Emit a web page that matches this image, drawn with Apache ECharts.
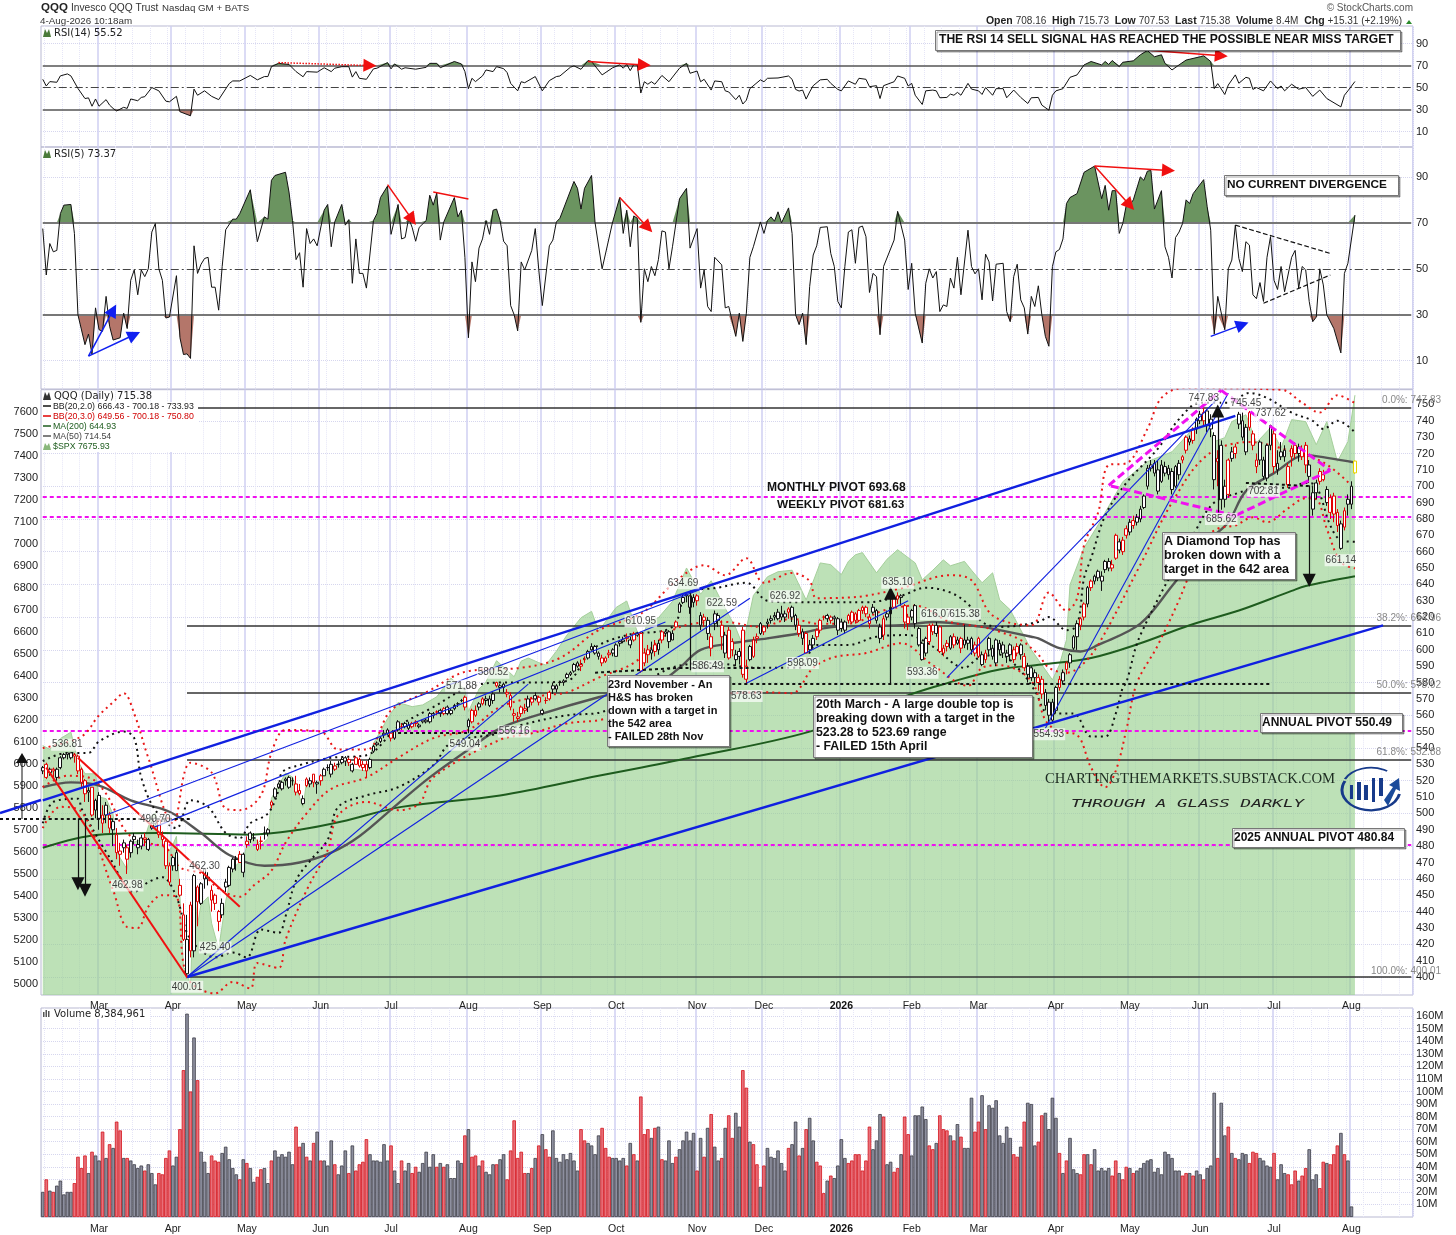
<!DOCTYPE html>
<html><head><meta charset="utf-8"><title>QQQ</title>
<script src="https://cdn.jsdelivr.net/npm/echarts@6/dist/echarts.min.js"></script>
<style>html,body{margin:0;padding:0;background:#fff}#c{width:1456px;height:1235px}</style></head>
<body><div id="c"></div><script>
const FONT='"Liberation Sans",Arial,sans-serif',VFONT='"DejaVu Sans",Verdana,sans-serif';
const monthIdx=[16,37,58,79,99,121,142,163,186,205,227,247,266,288,309,329,350,372];
const monthNames=['Mar','Apr','May','Jun','Jul','Aug','Sep','Oct','Nov','Dec','2026','Feb','Mar','Apr','May','Jun','Jul','Aug'];
const rsi14=[[0,57.5],[1,51.4],[2,55.4],[4,54.8],[5,60.6],[7,62.4],[8,60.6],[10,49.2],[12,40],[13,40.6],[14,33],[15,39.6],[16,33],[18,39],[19,34],[20,31],[21,28.7],[23,32],[24,31],[25,39.6],[27,38],[28,41],[29,41.7],[31,50],[33,47],[35,37.6],[36,37],[38,42],[39,28],[42,24.3],[43,48.6],[44,43],[46,47],[48,42],[50,39],[53,53.6],[54,56],[56,56],[59,61],[61,57],[63,60],[64,60],[65,69],[67,72],[70,71],[72,64.5],[74,59.8],[75,64.5],[78,64],[80,68],[82,64.5],[83,67.6],[85,69],[87,69],[88,59.5],[89,64.5],[90,58.4],[92,57.5],[94,67],[95,67.6],[98,72.7],[99,67],[100,71.5],[102,66.7],[103,68],[106,66.7],[109,68.4],[110,72],[112,72],[113,68],[117,73.7],[119,71.5],[120,64.5],[121,49],[122,58.4],[123,55.4],[125,60.6],[126,66],[128,64.5],[129,69],[131,67.2],[132,63.6],[133,53.8],[135,47],[136,55.3],[137,54.4],[140,60],[142,47],[144,56.3],[146,60],[147,60.5],[150,68.5],[151,69.7],[153,66.6],[155,74.6],[156,73.7],[159,61.5],[162,68],[164,70.6],[165,67.6],[166,71],[167,65.4],[168,71],[169,70.6],[170,45],[171,55.3],[172,53],[173,55.3],[174,53],[176,61],[178,55.3],[181,67.6],[183,72],[184,63],[186,65],[187,55.3],[188,57.5],[190,47.7],[191,56],[193,55.3],[194,47],[195,46],[197,39],[198,43],[199,35],[200,38.5],[201,49],[204,57],[205,55.3],[206,58.4],[209,58.7],[212,60.5],[213,57.5],[214,48.3],[215,46.8],[216,47.7],[217,39.5],[218,46],[219,51.7],[221,57],[223,57.5],[224,53.8],[226,48.3],[227,47],[229,56],[231,53],[232,58.4],[234,57.5],[235,50.8],[237,51.7],[238,40],[239,51.7],[242,55.3],[243,60.5],[245,58.4],[246,51.4],[247,53.8],[248,43],[250,34.6],[251,47],[253,47.7],[254,47],[255,40.7],[257,41],[258,44],[259,43],[260,45.6],[261,43],[263,53.8],[264,48.6],[266,47],[267,43.7],[268,50],[270,43],[271,49],[273,49],[274,40.7],[276,47.7],[278,41],[280,35.5],[281,40.7],[283,41],[284,34],[286,29.4],[287,43],[288,47],[290,49],[292,59.3],[294,61.5],[296,70.6],[298,73.7],[301,70.6],[302,73.7],[303,71],[304,74.6],[306,69],[307,73],[310,74.3],[312,79.8],[314,83.7],[316,78],[318,79.8],[319,72],[321,66],[323,70.6],[325,75],[329,78],[330,78.9],[332,73.7],[333,49],[334,53.6],[336,43.7],[337,52.3],[339,61.5],[340,53.9],[342,59.3],[343,58.4],[344,48.3],[345,50],[347,47],[349,56],[351,49],[352,51.4],[353,47],[355,53],[357,48.5],[359,50],[361,42],[363,47.7],[365,40],[369,32.4],[370,43],[371,47],[373,55.5]];
const rsi5=[[0,67.5],[1,47.3],[2,61],[3,57.4],[4,58],[5,74],[6,77.7],[8,78],[9,65.4],[10,30],[12,17],[13,21.6],[14,12.7],[15,33],[16,23.5],[17,22.8],[18,38],[19,25],[20,19],[22,20],[23,30.7],[24,24],[25,45],[26,49.5],[27,38.7],[28,49.5],[29,46.6],[30,50],[31,66],[32,69.7],[33,50],[34,45],[35,28.6],[36,29],[38,47],[39,20],[40,12.7],[41,13],[42,11],[43,60],[44,48],[45,52],[46,54.5],[47,55],[48,42],[49,42],[50,32],[51,51],[52,67],[54,71.6],[55,71.6],[56,74],[59,84.4],[61,61.8],[63,72.6],[64,71.6],[65,88.5],[66,90.6],[69,92],[70,83.4],[71,71],[72,54],[73,57],[74,42],[75,67.5],[76,61],[77,63],[78,60],[80,75.5],[81,78],[82,59.6],[83,70.4],[85,78],[86,69],[87,71.4],[88,43.7],[89,63],[90,48],[91,48],[92,41.6],[94,71],[95,74],[96,81],[98,86],[99,65],[101,78],[102,63],[103,63.6],[104,72],[105,68],[106,62],[107,68],[109,71],[110,82],[111,77.7],[112,83],[113,62.5],[114,70.4],[117,81],[118,72.6],[119,75.5],[120,55],[121,20],[122,53],[123,44.4],[124,59],[125,63],[126,71],[127,65],[128,75.5],[129,76],[130,71],[131,62],[132,60],[133,34],[134,30],[135,23],[136,53],[137,49.5],[139,58],[140,67.5],[141,49.5],[142,34],[144,60],[145,62.5],[146,70.4],[147,72],[151,88],[152,85],[153,76],[154,85],[156,90.6],[157,70],[159,50],[162,70.4],[164,81],[165,65.4],[166,75.5],[167,59.6],[168,73],[169,72],[170,26.7],[171,50],[172,44.4],[173,51],[174,47],[175,54],[176,66.5],[177,66],[178,50],[179,59.6],[181,80.5],[183,85],[184,59],[186,67.5],[187,41.6],[188,49.5],[189,33.6],[190,31.4],[191,55],[193,51.7],[194,33],[195,33.6],[197,20.6],[198,30.7],[199,18.4],[200,30.7],[201,55],[202,59.6],[204,70.4],[205,65.4],[206,71],[207,72.6],[208,70.7],[209,74.8],[210,70],[212,76.5],[213,65.4],[214,30],[215,25.7],[216,30.7],[217,17],[218,42.3],[219,56],[220,60],[221,68],[223,68.3],[224,56.7],[225,51],[226,35.8],[227,33],[228,51],[229,66],[230,67],[231,52.4],[232,68],[233,68.6],[234,64],[235,39.7],[236,48],[237,46.6],[238,21.3],[239,51],[242,62.5],[243,75],[245,62.5],[246,41],[247,52.4],[248,30.7],[250,17.7],[251,43.7],[252,50],[253,46],[254,48.8],[255,31.4],[256,34.3],[257,33.6],[258,46],[259,41.6],[260,55],[261,38.7],[263,66.8],[264,51],[265,47.8],[266,50],[267,36.5],[268,56.4],[269,53],[270,36],[271,52],[273,52.4],[274,31.4],[275,27],[276,46.6],[277,52],[278,36.5],[279,33],[280,21.6],[281,38],[282,33.6],[283,42.6],[284,30],[285,20.6],[286,16.3],[287,51],[288,57.4],[289,58.4],[290,63],[291,78.4],[292,81],[294,82.7],[296,92],[299,94.7],[301,80.5],[302,86.3],[303,75.5],[304,84],[305,84],[306,65.4],[307,69.7],[308,77.7],[309,77.7],[310,80],[312,90],[313,88.5],[314,92.5],[315,92.8],[316,76],[318,84],[319,59.6],[320,55],[321,46],[322,63.6],[323,66],[324,69.7],[325,80],[326,78.4],[327,82.7],[330,88.8],[331,77],[332,66.8],[333,21.6],[334,38],[336,23.5],[337,50],[338,53.8],[339,69],[340,54.5],[341,48.8],[342,61.8],[343,60.3],[344,38.7],[345,37],[346,44],[347,35.8],[348,55],[349,64],[350,45],[351,41],[352,51],[353,40],[355,55],[356,58],[357,41.6],[358,51],[359,49.5],[360,35.8],[361,27],[362,29],[363,50],[364,43],[365,30],[367,24],[369,13.4],[370,48],[371,52.4],[373,73.37]];
const ohlc=[526,528,524,529,530,522,521,531,525,527,523,528,527,526,521,528,522,527,520,528,528,534,527,535,534,536,533,537,536,537,533,537,534,537,533,537,536,535,531,537,535,526,524,536,527,519,516,528,520,512,507,521,514,513,507,516,516,499,498,516,502,508,497,509,511,497,490,513,494,499,488,505,499,505,494,507,499,491,488,501,490,495,480,497,487,476,472,491,477,475,468,482,479,482,476,484,479,472,463,481,476,483,473,484,
484,486,481,488,481,479,475,484,480,485,478,487,485,484,480,488,478,484,477,485,491,494,490,495,494,497,493,498,496,487,485,497,486,484,480,489,483,468,466,484,458,468,456,470,468,473,465,474,465,476,465,478,456,450,449,460,438,423,422,445,402,423,400,438,444,416,412,446,416,462,412,463,455,446,431,456,445,457,444,458,466,460,454,466,460,461,456,464,453,447,440,456,450,445,441,451,440,434,428,441,438,445,436,448,458,455,452,460,456,467,455,468,466,472,464,473,472,472,465,474,470,475,470,477,464,475,461,476,
483,481,479,486,484,488,482,489,485,485,483,488,478,481,477,484,483,483,478,486,488,488,484,492,490,488,486,491,505,507,503,508,510,515,509,516,516,518,515,519,515,519,514,520,520,521,517,522,516,522,515,523,520,520,517,522,518,513,511,523,512,514,511,518,506,509,505,511,517,521,516,522,520,518,516,522,524,519,516,524,518,519,512,520,
520,523,517,524,523,527,523,528,528,528,526,530,530,524,522,532,527,529,526,531,530,530,528,532,531,533,530,534,534,532,529,535,531,533,529,534,530,526,525,531,530,534,530,535,533,529,528,534,530,528,526,532,530,526,522,532,528,533,527,534,538,541,537,542,542,543,541,544,544,546,543,547,549,548,546,551,549,551,548,552,
549,546,544,549,546,550,545,551,551,556,550,557,553,553,551,555,553,555,552,556,554,552,551,556,553,555,552,556,555,556,553,557,553,554,552,555,557,556,555,557,556,557,555,558,556,561,555,562,560,561,558,562,562,562,560,563,563,561,559,564,561,564,560,565,565,561,560,566,561,563,560,564,564,566,563,567,567,567,565,568,569,569,568,570,571,565,563,572,
557,553,549,558,556,563,555,564,563,560,559,566,565,567,563,568,567,570,566,571,570,569,566,572,570,566,565,572,569,573,567,574,578,580,577,580.5,578,577,574,579,579,577,574,580,574,573,571,576,572,565,563,574,561,560,556,564,559,558,556,562,561,565,559,566,564,563,561,567,565,570,562,572,570,568,566,571,570,572,569,574,571,568,566,572,
561,563,560,564,569,569,567,571,570,574,569,575,578,576,573,580,576,578,574,579,580,580,578,581,580,581,578,582,583,585,582,586,585,586,584,587,587,591,586,592,592,590,589,593,590,591,587,594,594,594,592,596,595,599,594,600,600,602,600,604,602,598,597,603,598,596,594,599,595,592,590,597,593,595,592,596,597,598,595,600,598,600,596,601,
596,603,596,604,604,605,602,606,606,605,604,608,608,607,605,610,606,603,601,608,606,610,605,611,610,609,608,611,610,587,586,611,592,598,590,601,600,597,592,603,598,600,594,605,603,599,596,606,600,604,597,606,606,611,604,612,611,610,608,612,611,605,601,612,606,610,606,612,614,617,613,618,623,628,623,629,629,632,628,634,634,633,629,634.7,633,626,622,633,632,629,626,634,
633,630,627,634,621,615,612,623,618,620,614,622,618,610,606,620,608,601,596,610,616,622,612,624,618,621,614,622.6,615,608,600,618,609,598,595,611,595,612,594,614,605,600,596,607,597,594,590,600,596,599,591,601,612,585,583,614,582,590,578.63,594,594,602,593,603,596,606,595,608,607,608,604,610,610,616,609,617,
611,614,609,615,616,617,613,619,618,619,616,621,621,620,618,623,619,623,618,625,622,620,618,626.9,620,622,617,624,623,625,619,626,626,620,617,627,621,615,612,622,615,610,608,618,607,611,603,613,610,598,598,611,600,603,598,606,603,607,601,609,608,612,606,613,612,618,610,619,620,620,618,621,621,619,617,622,620,618,616,621,620,619,615,621,619,612,609,620,
617,613,611,619,612,617,610,618,618,621,616,622,617,623,616,624,622,618,616,623,618,624,617,625,624,626,622,627,626,622,620,627,620,616,613,622,626,623,622,628,624,618,616,625,607,614,604,616,609,619,606,621,620,622,618,624,622,626,620,627,626,632,625,633,631,633,628,635.1,632,633,627,634,627,617,613,628,620,616,612,622,
620,624,618,625,627,616,613,628,613,603,602,614,604,594,593.4,605,598,607,596,608,605,615,603,616,615,611,609,616.1,615,610,608,617,614,599,598,615,598,601,596,603,604,602,599,606,601,608,600,609,608,603,601,610,604,606,603,608,607,601,598,608,603,606,601,615.4,604,606,600,608,607,600,597,608,603,598,596,605,
596,607,595,608,597,591,590,599,594,598,592,600,607,600,597,608,601,596,594,603,592,606,590,607,600,604,597,606,603,598,595,605,598,596,592,600,603,597,593,604,594,600,592,602,598,602,596,604,603,597,594,604,596,589,587,598,590,585,580,592,583,589,581,590,586,583,578,588,580,583,575,585,582,573,570,584,574,566,563,576,568,560,556,570,557,568,554.93,570,
563,577,561,578,577,582,575,584,581,586,579,588,588,592,585,593,592,597,589,598,608,601,600,609,608,616,600,618,615,619,612,620,620,628,618,629,628,638,626,639,638,642,636,643,642,645,640,646,648,644,642,649,645,642,636,648,649,654,647,655,654,650,648,656,650,652,648,655,656,670,655,671,666,661,659,668,660,667,658,669,670,674,668,676,672,678,670,680,
676,679,674,682,678,681,676,683,680,686,678,688,687,694,686,695,700,711,698,713,713,711,709,716,708,714,706,716,710,697,695,716,703,713,702,716,712,708,706,715,711,707,704,713,709,698,695,711,700,712,699,713,707,714,704,716,716,718,714,719,722,730,720,731,729,727,725,731,728,735,726,736,735,741,732,742,
740,744,738,746,740,745,737,747.83,746,737,733,747,741,735,730,744,731,704,698,733,717,715,700,722,725,692,685.62,728,700,692,687,704,695,716,693,717,717,721,715,724,720,724,717,726,738,744,735,745.45,740,730,728,745,736,721,719,738,736,745,734,746,732,725,722,734,716,712,708,720,727,716,713,728,716,706,704,718,705,725,703,726,725,737,722,737.62,
732,712,708,735,714,710,707,722,718,721,716,727,722,718,715,725,701,712,699,714,718,723,712,725,720,725,717,727,724,720,715,726,718,722,716,725,725,713,708,727,713,706,702,716,686,696,682,700,702,696,692,704,703,709,701,711,704,707,703,710,698,690,688,700,693,684,680,695,694,683,678,696,684,676,672,686,677,662,661.14,679,675,685,673,687,692,689,682,695,689,700,686,703,708.16,715.38,707.53,715.73];
const volume=[20,30,21,20,25,29,18,20,20,27,48,39,49,35,52,49,45,68,47,58,55,76,69,47,47,45,42,39,41,37,42,35,26,35,34,47,53,41,48,70,117,162,100,143,109,52,44,35,49,45,44,51,56,46,39,34,30,46,43,39,28,32,38,39,27,45,53,48,50,48,52,42,72,56,59,48,45,59,68,45,45,41,61,42,34,41,53,35,57,37,42,44,62,50,45,45,44,58,45,57,37,27,45,37,43,35,40,36,43,52,40,50,40,43,40,42,31,31,45,43,65,70,48,49,41,45,36,34,42,42,46,50,30,53,77,47,52,35,35,39,47,57,66,54,48,69,47,44,50,46,51,45,37,70,61,59,57,50,65,71,55,48,47,47,45,47,41,59,50,45,96,66,70,63,71,72,46,45,61,43,48,54,61,68,61,67,37,63,48,71,82,56,45,47,71,81,63,83,72,117,103,60,58,42,24,41,55,48,47,53,43,37,55,58,76,49,55,70,79,61,44,41,19,29,33,31,41,62,47,43,45,50,50,37,45,72,54,61,82,80,42,44,36,39,50,80,66,49,81,81,88,78,57,54,59,81,70,69,65,61,74,64,55,55,95,68,76,97,70,89,87,93,65,59,72,63,50,48,56,76,91,90,57,60,81,83,70,95,79,51,35,45,63,38,35,34,50,50,42,54,37,39,37,39,33,45,35,30,40,39,35,37,39,43,45,46,36,39,34,52,50,47,37,37,33,35,35,33,37,34,30,39,41,99,47,91,65,72,51,47,46,51,50,43,52,51,47,45,41,40,51,30,42,35,34,26,37,29,33,39,54,30,34,23,44,43,42,50,57,67,50,45,8.4];
const dayDir='grgrgggggrrrrgrggrgrgrrgrggggrgggrrrrggrrgrgrgggrrrgggggrgrggrrggrggggggrrgrgrgrgggrgggrgrrrrggggggrggrggrrgggggrgrgggggrgrrgrgggrggrrrrrrgrgrgrrggggggggrrggggrrrggggrgrgrrrgrgrgggrgggggrgrgrggrgrrggrrgrrgrggggggrggrgrggrrrgrggggrrrrrrrgggrggrrgrrgggggrrgrrrgrgrgggrrgrgggggggrrgrgggrrggggrgrgggrrgrgggggrrgrrgrgggggggggggggrrgrggrgggrggrgrgggrrrggggrgggrrrgrrgggrrgrrrgrggrrgrgggrgrrrggrrrrrrgggg';
const spx=[[0,6083],[2,6066],[5,6115],[8,6144],[10,6013],[12,5955],[15,5955],[16,5849],[18,5842],[20,5770],[21,5614],[22,5572],[24,5521],[25,5639],[29,5662],[31,5767],[32,5776],[35,5581],[37,5633],[38,5671],[39,5397],[40,5074],[41,5062],[42,4983],[43,5457],[44,5268],[45,5363],[47,5396],[48,5276],[50,5158],[52,5376],[54,5525],[57,5569],[59,5686],[62,5631],[64,5660],[65,5844],[69,5958],[71,5940],[74,5802],[75,5921],[78,5912],[81,5970],[84,6000],[86,6022],[88,5977],[92,5968],[94,6092],[98,6205],[101,6279],[105,6260],[108,6268],[112,6305],[116,6389],[120,6339],[121,6238],[124,6340],[126,6373],[129,6469],[134,6396],[136,6467],[138,6481],[141,6460],[143,6449],[146,6512],[149,6585],[153,6664],[156,6693],[158,6604],[163,6711],[166,6740],[170,6553],[172,6644],[175,6664],[179,6738],[183,6890],[187,6771],[190,6832],[193,6737],[197,6617],[199,6538],[202,6765],[206,6850],[209,6873],[213,6880],[217,6745],[221,6913],[224,6905],[227,6860],[229,6920],[231,6950],[233,6960],[237,6868],[240,6930],[243,6973],[248,6913],[250,6836],[253,6880],[256,6927],[258,6900],[262,6920],[264,6880],[267,6823],[270,6868],[272,6745],[275,6700],[278,6609],[281,6518],[284,6450],[287,6382],[289,6450],[291,6564],[292,6814],[296,6982],[300,7086],[307,7282],[314,7373],[321,7418],[328,7541],[331,7573],[333,7464],[336,7482],[338,7555],[342,7586],[345,7459],[349,7527],[352,7436],[355,7564],[359,7555],[362,7450],[365,7555],[368,7373],[371,7464],[373,7675]];
const bb2Upper=[[0,532],[7,537],[13,537],[16,544],[23,550],[26,546],[28,522],[32,502],[38,491],[42,508],[47,504],[52,488],[56,485],[59,494],[64,500],[67,514],[68,525],[73,529.5],[82,534],[92,535.6],[101,553],[111,565],[121,577],[130,580],[139,580],[149,581],[156,600],[166,609],[179,614],[183,634],[192,638],[200,641],[206,630],[215,629],[225,629],[234,629],[244,633],[251,638],[258,635],[263,628],[267,617],[272,614],[283,617],[286,620],[291,612],[294,615],[296,644],[298,656],[302,682],[308,702],[317,723],[323,741],[329,751],[337,751],[343,757],[348,754],[355,745],[361,740],[364,735],[368,740],[373,733]];
const bb2Lower=[[0,494],[3,507],[10,509],[11,503],[19,473],[26,452],[30,458],[34,461],[38,449],[41,427],[44,418],[49,412],[54,415],[58,412],[62,429],[67,427],[69,437],[72,459],[76,471],[81,484],[84,504],[92,511],[101,516],[111,529.5],[116,543],[130,549],[136,554],[149,560],[159,562],[177,587.5],[190,592],[203,589],[215,589],[220,603],[229,603],[237,608],[246,609],[253,602],[262,589],[266,595],[272,597],[278,587],[282,575],[286,561],[293,561],[298,547],[302,547],[305,561],[307,577],[308,580],[312,609],[328,674],[333,690],[340,696],[345,699],[354,699],[359,702],[362,700],[366,676],[369,667],[373,666]];
const bb3Upper=[[0,540],[11,547],[16,560],[20,568],[23,573.5],[26,561],[30,534],[37,494],[42,531],[48,525],[52,503],[56,502],[62,511],[65,537],[69,551],[79,550],[84,539],[92,539],[99,563],[109,574],[121,587],[136,589],[147,595],[158,612],[170,622],[180,642],[188,651.7],[194,645.6],[200,656],[205,641],[213,647],[218,642],[220,631.5],[229,632],[234,633],[244,637.6],[258,645.6],[264,642.5],[270,621],[281,615],[286,635],[291,624],[294,631.5],[296,664],[300,684],[303,713],[308,714],[314,735],[318,754],[324,760],[352,759],[358,751],[363,745],[368,755.6],[373,750.8]];
const bb3Lower=[[0,491],[5,504],[11,501],[20,453],[24,430.5],[27,430],[30,443],[34,450],[38,449],[41,400],[49,390],[54,397],[59,393],[61,408.5],[67,405.5],[69,422.6],[75,453],[81,477.6],[84,499],[92,507],[101,502],[107,506],[111,522],[130,545],[139,549],[149,555],[158,557],[196,573.5],[206,574],[213,573.5],[219,589],[225,595.5],[234,598],[244,604],[253,590.6],[263,578],[267,589],[272,590.6],[281,581],[285,557],[289,550],[294,548],[298,528],[302,516],[305,526],[308,551],[311,579.6],[317,603],[325,641],[328,664],[334,674],[339,676],[344,681],[348,678],[354,686.5],[359,692.6],[362,692],[365,674],[369,653.5],[373,649.8]];
const bbMid=[[0,516],[7,523],[13,522],[18,512],[24,488],[30,482],[35,479],[39,467],[45,463.5],[50,454],[56,449],[60,456],[65,465],[69,482],[75,500],[82,515],[92,522],[101,534],[111,546],[121,551],[130,565],[142,572],[149,574],[158,583],[168,592],[180,613],[194,617],[204,614],[213,619],[220,616],[229,616],[239,624],[248,627],[258,617],[267,614],[272,611],[278,606],[283,597],[286,589],[291,586],[295,590],[300,603],[312,652],[321,690],[331,719],[343,727],[354,722],[364,714.6],[372,700.5]];
const ma200=[[0,479],[16,487],[33,488],[59,487],[73,490],[85,495],[102,504],[130,511],[158,523],[184,534],[218,550],[247,573],[256,579],[272,588],[284,591],[298,595],[312,604],[326,615],[340,624],[355,636],[359,639],[373,645]];
const ma50=[[0,516],[8,519],[16,517],[25,508],[36,501],[45,488],[53,474.6],[63,468],[73,470],[82,476],[90,486],[101,506],[110,522],[121,539],[130,552],[142,561],[158,571],[175,580],[181,589],[187,600],[196,604],[206,607],[215,610],[225,614],[244,615],[253,617],[267,614],[272,612],[281,608],[283,607],[289,601],[295,599],[300,603],[312,616],[321,639],[331,666],[337,678],[342,697],[350,708],[359,719],[366,717],[373,714.5]];
const pivots=[693.68,681.63,550.49,480.84];
const fibs=[747.83,614.96,573.92,532.88,400.01];
const blueThick=[[0,508,339,743],[41,400,381,615]];
const blueThin=[[41,400,138,579],[41,400,201,631.5],[18,499,192,641],[31,491,177,617],[200,579.6,246,630],[257,583,334,753.7],[285,552,337,757]];
const redThick=[[1,528,41,400],[10,534,56,443]];
const diamond=[[303,700.5,335,758.6],[335,758.6,366,709.7],[366,709.7,339,682],[339,682,303,700.5]];
const blackArrows=[[10,497,10,457],[12,497,12,453],[241,579.6,241,634.6],[334,684,334,746],[360,700.5,360,642.5]];
const blackStems=[[184,634.6,184,587.5]];
const blackDashed=[[0,496.5,42,496.5],[196,579,349,579],[181,589,204,589],[157,586,181,589],[101,549,138,549],[342,702,361,700]];
const rsi14Red=[[155,73.7,171,70.6],[315,83.7,335,78.9]];
const rsi14RedDot=[[67,72.7,93,70]];
const rsi5RedArrows=[[98,86.6,105,71.4],[164,81,172,68],[299,94.7,320,92.8],[299,94.7,309,77.7]];
const rsi5RedPlain=[[111,83.4,121,80.4]];
const rsi5BlueArrows=[[13,12,20,32],[13,12,26,21.3],[332,20.6,341,25.7]];
const rsi5Dashed=[[339,69,366,56.7],[347,35,366,47.3]];
const pointLabels=[[7,542,'536.81'],[32,496.5,'490.70'],[24,456,'462.98'],[46,468,'462.30'],[49,418,'425.40'],[41,394,'400.01'],[120,542,'549.04'],[119,578,'571.88'],[128,586,'580.52'],[170,617.5,'610.95'],[134,550,'556.16'],[182,640.7,'634.69'],[193,628.5,'622.59'],[189,590,'586.49'],[200,571.7,'578.63'],[211,632.7,'626.92'],[216,592,'598.09'],[243,641,'635.10'],[254,621.7,'616.07'],[262,621.7,'615.38'],[250,586,'593.36'],[286,548.4,'554.93'],[330,754,'747.83'],[342,751,'745.45'],[349,744.5,'737.62'],[347,697,'702.81'],[335,680,'685.62'],[369,654.7,'661.14']];
const rsiTicks=[90,70,50,30,10];
const N=390;const cats=Array.from({length:N},(_,i)=>String(i));
const mSet=new Map(monthIdx.map((d,i)=>[d,monthNames[i]]));
const grids=[{top:26,height:121},{top:147,height:242},{top:389.7,height:605.3},{top:1008,height:212}];
const gridBorder='#b9b9d2',monthLine='#cfcff2',weekLine='#e6e6f7',hLine='#d6d6ee';
const xAxes=[];
grids.forEach((g,i)=>{
 const labels=i>=2;
 xAxes.push({type:'category',gridIndex:i,data:cats,boundaryGap:true,axisLine:{show:false},axisTick:{show:false},
  splitLine:{show:true,interval:k=>mSet.has(k),lineStyle:{color:monthLine,width:1.5}},
  axisLabel:{show:labels,interval:k=>mSet.has(k),margin:i==2?6:7,fontFamily:FONT,fontSize:10.5,color:'#222',hideOverlap:false,
   formatter:(v)=>{const n=mSet.get(+v);return n=='2026'?'{b|2026}':(n||'')},rich:{b:{fontWeight:'bold',fontSize:10.5,fontFamily:FONT,color:'#111'}}}});
 xAxes.push({type:'category',gridIndex:i,data:cats,boundaryGap:true,axisLine:{show:false},axisTick:{show:false},axisLabel:{show:false},
  splitLine:{show:true,interval:k=>(k-1)%5===0&&!mSet.has(k),lineStyle:{color:weekLine,width:1,type:'dotted'}}});
});
const yBase=(o)=>Object.assign({type:'value',scale:true,axisLine:{show:false},axisTick:{show:false},splitLine:{show:false},
  axisLabel:{fontFamily:FONT,fontSize:11,color:'#222',margin:3}},o);
const tens=[];for(let v=400;v<=750;v+=10)tens.push(v);
const tw=[];for(let v=400;v<=750;v+=20)tw.push(v);
const spxTicks=[];for(let v=5000;v<=7600;v+=100)spxTicks.push(v);
const volTicks=[];for(let v=10;v<=160;v+=10)volTicks.push(v);
const LS={fontFamily:FONT,fontSize:11,color:'#222',margin:3};
const yAxes=[
 yBase({gridIndex:0,position:'right',min:-4.1,max:106,axisLabel:Object.assign({customValues:rsiTicks},LS),axisTick:{show:false,customValues:[90,10]},splitLine:{show:true,lineStyle:{color:hLine,type:'dotted'}}}),
 yBase({gridIndex:1,position:'right',min:-2.3,max:103,axisLabel:Object.assign({customValues:rsiTicks},LS),axisTick:{show:false,customValues:[90,10]},splitLine:{show:true,lineStyle:{color:hLine,type:'dotted'}}}),
 yBase({gridIndex:2,position:'right',min:389,max:759,axisLabel:Object.assign({customValues:tens},LS),axisTick:{show:false,customValues:tw},splitLine:{show:true,lineStyle:{color:hLine,type:'dotted'}}}),
 yBase({gridIndex:2,position:'left',min:4950,max:7700,axisLabel:Object.assign({customValues:spxTicks,formatter:v=>String(v)},LS)}),
 yBase({gridIndex:3,position:'right',min:0,max:166.5,axisLabel:Object.assign({customValues:volTicks,formatter:v=>v+'M'},LS),axisTick:{show:false,customValues:volTicks},splitLine:{show:true,lineStyle:{color:hLine,type:'dotted'}}})
];
const mk=(x,y,name,extra)=>Object.assign({type:'line',name,xAxisIndex:x,yAxisIndex:y,symbol:'none',silent:true,animation:false,connectNulls:true},extra);
const ml=(x,y,lines,style,z,head)=>mk(x,y,'lines',{data:[],z,markLine:{silent:true,animation:false,symbol:'none',label:{show:false},lineStyle:style,emphasis:{disabled:true},z,
 data:lines.map(l=>[{coord:[l[0],l[1]],symbol:'none'},{coord:[l[2],l[3]],symbol:head?'triangle':'none',symbolSize:head||0}])}});
const flat=v=>[0,v,389,v];
const fill=(x,y,arr,lvl,above,col)=>mk(x,y,'fill',{z:2,lineStyle:{width:0,opacity:0},data:arr.map(p=>[p[0],above?Math.max(p[1],lvl):Math.min(p[1],lvl)]),areaStyle:{origin:lvl,color:col,opacity:1}});
const GRN='#6b9460',BRN='#b4766a',INK='#111',RED='#e00000';
const candles=[];for(let i=0;i<ohlc.length;i+=4){const d=i/4,ink=dayDir[d]==='r'?RED:INK,last=d===ohlc.length/4-1;
 candles.push({value:[ohlc[i],ohlc[i+1],ohlc[i+2],ohlc[i+3]],itemStyle:{color:'#fff',color0:ink,borderColor:last?'#e8d400':ink,borderColor0:ink,borderWidth:1}});}
const volBars=volume.map((v,d)=>({value:v,itemStyle:dayDir[d]==='r'?{color:'#e8707a',borderColor:'#d4141c',borderWidth:.8}:{color:'#8e909f',borderColor:'#3c3c46',borderWidth:.8}}));
const curve={smooth:.35};
const series=[
 fill(0,0,rsi14,70,true,GRN),fill(0,0,rsi14,30,false,BRN),
 ml(0,0,[flat(70),flat(30)],{color:'#555',width:1.5,type:'solid'},3),
 ml(0,0,[flat(50)],{color:'#444',width:1,type:[8,3,2,3]},3),
 mk(0,0,'RSI(14)',{data:rsi14,z:5,lineStyle:{color:'#111',width:1}}),
 ml(0,0,rsi14Red,{color:'#f01010',width:1.5,type:'solid'},6,13),
 ml(0,0,rsi14RedDot,{color:'#f01010',width:1.5,type:'dotted'},6,13),
 fill(2,1,rsi5,70,true,GRN),fill(2,1,rsi5,30,false,BRN),
 ml(2,1,[flat(70),flat(30)],{color:'#777',width:2,type:'solid'},3),
 ml(2,1,[flat(50)],{color:'#444',width:1,type:[8,3,2,3]},3),
 mk(2,1,'RSI(5)',{data:rsi5,z:5,lineStyle:{color:'#111',width:1}}),
 ml(2,1,rsi5RedArrows,{color:'#f01010',width:1.5,type:'solid'},6,13),
 ml(2,1,rsi5RedPlain,{color:'#f01010',width:1.5,type:'solid'},6),
 ml(2,1,rsi5BlueArrows,{color:'#1020f0',width:1.5,type:'solid'},6,13),
 ml(2,1,rsi5Dashed,{color:'#111',width:1.2,type:'dashed'},6),
 mk(4,3,'$SPX',{data:spx,z:1,lineStyle:{color:'#a5cf9b',width:1},areaStyle:{origin:'start',color:'#95cf8a',opacity:.62}}),
 ml(4,2,fibs.map(v=>[41,v,389,v]),{color:'#333',width:1.5,type:'solid'},3),
 ml(4,2,pivots.map(flat),{color:'#f010f0',width:2,type:[4,3]},3),
 mk(4,2,'MA(200)',Object.assign({data:ma200,z:4,lineStyle:{color:'#1e5c1e',width:2}},curve)),
 mk(4,2,'MA(50)',Object.assign({data:ma50,z:4,lineStyle:{color:'#555',width:2.4}},curve)),
 mk(4,2,'BB upper',Object.assign({data:bb2Upper,z:4,lineStyle:{color:'#111',width:2,type:[2,4]}},curve)),
 mk(4,2,'BB lower',Object.assign({data:bb2Lower,z:4,lineStyle:{color:'#111',width:2,type:[2,4]}},curve)),
 mk(4,2,'BB3 upper',Object.assign({data:bb3Upper,z:4,lineStyle:{color:'#e81818',width:2,type:[2,4]}},curve)),
 mk(4,2,'BB3 lower',Object.assign({data:bb3Lower,z:4,lineStyle:{color:'#e81818',width:2,type:[2,4]}},curve)),
 mk(4,2,'BB3 mid',Object.assign({data:bbMid,z:4,lineStyle:{color:'#e81818',width:2,type:[2,4]}},curve)),
 {type:'candlestick',name:'QQQ',xAxisIndex:4,yAxisIndex:2,data:candles,z:6,barWidth:3.2,silent:true,animation:false},
 ml(4,2,blueThick,{color:'#1020e0',width:2.4,type:'solid'},7),
 ml(4,2,blueThin,{color:'#1020e0',width:1.1,type:'solid'},7),
 ml(4,2,redThick,{color:'#f01010',width:2,type:'solid'},7),
 ml(4,2,diamond,{color:'#f010f0',width:3,type:[8,4]},7),
 ml(4,2,blackArrows,{color:'#111',width:1.2,type:'solid'},7,13),
 ml(4,2,blackStems,{color:'#111',width:1.2,type:'solid'},7),
 ml(4,2,blackDashed,{color:'#111',width:2,type:[3,3]},7),
 {type:'scatter',name:'labels',xAxisIndex:4,yAxisIndex:2,symbolSize:0,z:8,silent:true,animation:false,data:pointLabels.map(p=>({value:[p[0],p[1]],label:{formatter:p[2]}})),
  label:{show:true,position:'inside',fontFamily:FONT,fontSize:10,color:'#111',backgroundColor:'rgba(255,255,255,.85)',padding:[1,1]}},
 {type:'bar',name:'Volume',xAxisIndex:6,yAxisIndex:4,data:volBars,barWidth:3.5,z:3,silent:true,animation:false}
];
const T=(x,y,text,font,fill,o)=>({type:'text',z:50,x,y,style:Object.assign({text,font,fill,verticalAlign:'middle',align:'left'},o||{})});
const R=(x,y,w,h)=>({type:'rect',z:49,shape:{x:x+.5,y:y+.5,width:w,height:h},style:{fill:'#fff',stroke:'#777',lineWidth:1,shadowColor:'rgba(0,0,0,.35)',shadowOffsetX:1.5,shadowOffsetY:1.5,shadowBlur:0}});
const bf=s=>'bold '+s+'px '+FONT;
const right={align:'right'};
const graphics=[
 T(41,8,'QQQ','bold 11.5px '+FONT,'#222'),T(71,8,'Invesco QQQ Trust','10.2px '+FONT,'#333'),T(162,8.5,'Nasdaq GM + BATS','9.7px '+FONT,'#333'),
 T(40,21,'4-Aug-2026 10:18am','9.8px '+FONT,'#333'),
 T(1413,8,'© StockCharts.com','10px '+FONT,'#555',right),
 {type:'text',z:50,x:1402,y:21,style:{align:'right',verticalAlign:'middle',font:'10.5px '+FONT,fill:'#333',rich:{b:{font:'bold 10.5px '+FONT,fill:'#222'},v:{font:'10px '+FONT,fill:'#333'}},
  text:'{b|Open} {v|708.16}  {b|High} {v|715.73}  {b|Low} {v|707.53}  {b|Last} {v|715.38}  {b|Volume} {v|8.4M}  {b|Chg} {v|+15.31 (+2.19%)}'}},
 {type:'polygon',z:50,shape:{points:[[1406,24],[1412,24],[1409,20]]},style:{fill:'#2a8a2a'}},
 T(54,33,'RSI(14) 55.52','10px '+VFONT,'#222'),T(54,154,'RSI(5) 73.37','10px '+VFONT,'#222'),
 {type:'polygon',z:50,shape:{points:[[43,37],[51,37],[49,29],[47,33],[45,29]]},style:{fill:'#4a7a3a'}},
 {type:'polygon',z:50,shape:{points:[[43,158],[51,158],[49,150],[47,154],[45,150]]},style:{fill:'#4a7a3a'}},
 {type:'polygon',z:50,shape:{points:[[43,400],[51,400],[49,392],[47,396],[45,392]]},style:{fill:'#333'}},
 T(54,396,'QQQ (Daily) 715.38','10px '+VFONT,'#222'),
 {type:'rect',z:48,shape:{x:42,y:402,width:156,height:50},style:{fill:'#fff'}},
 {type:'line',z:50,shape:{x1:43,y1:406,x2:51,y2:406},style:{stroke:'#111',lineWidth:1.5}},T(53,406.5,'BB(20,2.0) 666.43 - 700.18 - 733.93','8.8px '+FONT,'#222'),
 {type:'line',z:50,shape:{x1:43,y1:416,x2:51,y2:416},style:{stroke:'#e00000',lineWidth:1.5}},T(53,416.5,'BB(20,3.0) 649.56 - 700.18 - 750.80','8.8px '+FONT,'#d00000'),
 {type:'line',z:50,shape:{x1:43,y1:426,x2:51,y2:426},style:{stroke:'#1e5c1e',lineWidth:1.5}},T(53,426.5,'MA(200) 644.93','8.8px '+FONT,'#1e5c1e'),
 {type:'line',z:50,shape:{x1:43,y1:436,x2:51,y2:436},style:{stroke:'#555',lineWidth:1.5}},T(53,436.5,'MA(50) 714.54','8.8px '+FONT,'#444'),
 {type:'polygon',z:50,shape:{points:[[43,450],[51,450],[49,443],[47,446],[45,443]]},style:{fill:'#8ab87c'}},T(53,446.5,'$SPX 7675.93','8.8px '+FONT,'#1e5c1e'),
 {type:'rect',z:48,shape:{x:44,y:1009,width:106,height:10},style:{fill:'#fff'}},
 {type:'rect',z:50,shape:{x:43,y:1012,width:1.5,height:5},style:{fill:'#555'}},{type:'rect',z:50,shape:{x:45.5,y:1010,width:1.5,height:7},style:{fill:'#555'}},{type:'rect',z:50,shape:{x:48,y:1011,width:1.5,height:6},style:{fill:'#555'}},
 T(54,1014,'Volume 8,384,961','10px '+VFONT,'#222'),
 {type:'line',z:50,shape:{x1:0,y1:813,x2:41,y2:800},style:{stroke:'#1020e0',lineWidth:2.4}},
 {type:'line',z:50,shape:{x1:0,y1:819,x2:41,y2:819},style:{stroke:'#111',lineWidth:2,lineDash:[3,3]}},
 {type:'line',z:50,shape:{x1:22,y1:819,x2:22,y2:760},style:{stroke:'#111',lineWidth:1}},
 {type:'polygon',z:50,shape:{points:[[16,763],[28,763],[22,753]]},style:{fill:'#111'}},
 T(1441,400,'0.0%: 747.83','10px '+FONT,'#888',right),T(1441,618,'38.2%: 614.96','10px '+FONT,'#888',right),T(1441,685,'50.0%: 573.92','10px '+FONT,'#888',right),T(1441,752,'61.8%: 532.88','10px '+FONT,'#888',right),T(1441,971,'100.0%: 400.01','10px '+FONT,'#888',right),
 R(935,30,465,20),T(939,40,'THE RSI 14 SELL SIGNAL HAS REACHED THE POSSIBLE NEAR MISS TARGET',bf(12.1),'#111'),
 R(1224,175,174,20),T(1227,185,'NO CURRENT DIVERGENCE',bf(11.8),'#111'),
 T(767,488,'MONTHLY PIVOT 693.68',bf(12.1),'#111'),T(777,505,'WEEKLY PIVOT 681.63',bf(11.8),'#111'),
 R(607,675,122,71),T(608,710.5,'23rd November - An\nH&S has broken\ndown with a target in\nthe 542 area\n- FAILED 28th Nov',bf(11),'#111',{lineHeight:13}),
 R(813,695,219,62),T(816,726,'20th March - A large double top is\nbreaking down with a target in the\n523.28 to 523.69 range\n- FAILED 15th April',bf(12.3),'#111',{lineHeight:14}),
 R(1162,532,133,47),T(1164,555.5,'A Diamond Top has\nbroken down with a\ntarget in the 642 area',bf(12.5),'#111',{lineHeight:14}),
 R(1260,713,142,19),T(1262,722.5,'ANNUAL PIVOT 550.49',bf(12),'#111'),
 R(1232,828,172,19),T(1234,837.5,'2025 ANNUAL PIVOT 480.84',bf(12),'#111'),
 T(1045,779,'CHARTINGTHEMARKETS.SUBSTACK.COM','14.7px "Liberation Serif",serif','#1c2a20'),
 {type:'text',z:50,x:1071,y:804,scaleX:1.6,style:{text:'THROUGH A GLASS DARKLY',font:'italic 11px "DejaVu Sans Mono",monospace',fill:'#222',verticalAlign:'middle'}},
 {type:'arc',z:50,shape:{cx:1371,cy:790,r:29,startAngle:0.2,endAngle:3.6},style:{stroke:'#173a8a',fill:'none',lineWidth:3},scaleY:0.7,originY:790},
 {type:'arc',z:50,shape:{cx:1371,cy:788,r:29,startAngle:3.6,endAngle:5.3},style:{stroke:'#173a8a',fill:'none',lineWidth:2.5},scaleY:0.7,originY:788},
 {type:'rect',z:51,shape:{x:1350,y:785,width:3,height:14},style:{fill:'#173a8a'}},{type:'rect',z:51,shape:{x:1357,y:782,width:4,height:18},style:{fill:'#173a8a'}},{type:'rect',z:51,shape:{x:1364,y:785,width:4,height:15},style:{fill:'#173a8a'}},{type:'rect',z:51,shape:{x:1372,y:778,width:3,height:24},style:{fill:'#173a8a'}},{type:'rect',z:51,shape:{x:1379,y:778,width:4,height:18},style:{fill:'#173a8a'}},
 {type:'polygon',z:51,shape:{points:[[1384,800],[1393,787],[1389,785],[1399,778],[1400,791],[1396,789],[1388,806]]},style:{fill:'#1a4a9a'}}
];
const chart=echarts.init(document.getElementById('c'),null,{renderer:'canvas'});
chart.setOption({animation:false,backgroundColor:'#fff',
 grid:grids.map(g=>({left:41,width:1372,top:g.top,height:g.height,show:true,borderColor:gridBorder,borderWidth:1,backgroundColor:'transparent',containLabel:false})),
 xAxis:xAxes,yAxis:yAxes,series,graphic:{elements:graphics}});
</script></body></html>
